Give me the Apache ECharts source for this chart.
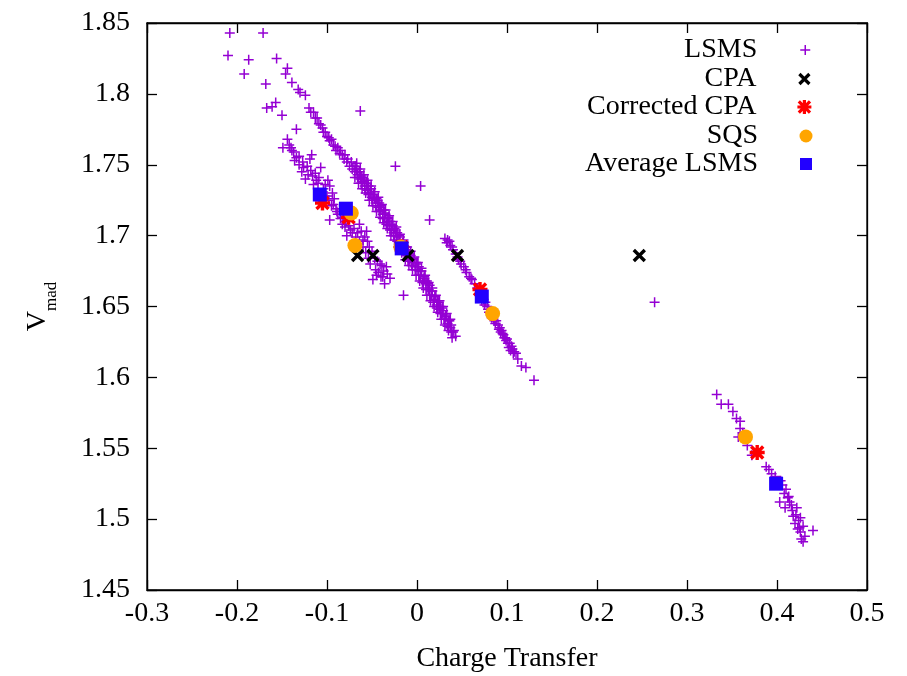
<!DOCTYPE html>
<html>
<head>
<meta charset="utf-8">
<script src="https://cdn.jsdelivr.net/npm/echarts@6/dist/echarts.min.js"></script>
<style>html,body{margin:0;padding:0;background:#fff;overflow:hidden;}#c{width:907px;height:676px;}</style>
</head>
<body>
<div id="c"></div>
<script>
// ---- data ----
const xTicks = [-0.3,-0.2,-0.1,0,0.1,0.2,0.3,0.4,0.5];
const yTicks = [1.45,1.5,1.55,1.6,1.65,1.7,1.75,1.8,1.85];

const lsmsTop = [[-0.208,1.843],[-0.171,1.843],[-0.210,1.827],[-0.187,1.824],[-0.192,1.814],[-0.156,1.825],[-0.144,1.818],[-0.146,1.814],[-0.168,1.807],[-0.139,1.808],[-0.132,1.803],[-0.130,1.801],[-0.124,1.799],[-0.157,1.794],[-0.161,1.791],[-0.167,1.790],[-0.150,1.785],[-0.063,1.788],[-0.134,1.775]];

const lsmsBandA = [[-0.120,1.790],[-0.118,1.787],[-0.115,1.787],[-0.113,1.783],[-0.111,1.783],[-0.109,1.779],[-0.107,1.778],[-0.105,1.776],[-0.104,1.773],[-0.102,1.773],[-0.100,1.770],[-0.098,1.769],[-0.097,1.767],[-0.095,1.768],[-0.093,1.764],[-0.091,1.763],[-0.090,1.760],[-0.088,1.762],[-0.086,1.758],[-0.085,1.760],[-0.083,1.757],[-0.081,1.754],[-0.080,1.757],[-0.078,1.752],[-0.077,1.754],[-0.075,1.749],[-0.073,1.752],[-0.072,1.747],[-0.070,1.749],[-0.069,1.745],[-0.067,1.747],[-0.066,1.743],[-0.064,1.745],[-0.063,1.740],[-0.062,1.742],[-0.060,1.738],[-0.059,1.740],[-0.058,1.735],[-0.056,1.737],[-0.055,1.732],[-0.054,1.735],[-0.052,1.730],[-0.051,1.733],[-0.050,1.727],[-0.048,1.729],[-0.047,1.726],[-0.046,1.723],[-0.045,1.726],[-0.043,1.720],[-0.042,1.723],[-0.041,1.718],[-0.040,1.721],[-0.038,1.715],[-0.037,1.718],[-0.036,1.712],[-0.035,1.715],[-0.033,1.710],[-0.032,1.713],[-0.031,1.707],[-0.030,1.710],[-0.028,1.704],[-0.027,1.707],[-0.026,1.702],[-0.025,1.705],[-0.023,1.700],[-0.022,1.702],[-0.020,1.696],[-0.019,1.699],[-0.018,1.694],[-0.016,1.693],[-0.014,1.689],[-0.013,1.692],[-0.011,1.686],[-0.010,1.688],[-0.008,1.683],[-0.007,1.686],[-0.005,1.681],[-0.004,1.683],[-0.002,1.678],[-0.001,1.681],[0.001,1.676],[0.002,1.678],[0.004,1.672],[0.005,1.675],[0.007,1.668],[0.008,1.671],[0.010,1.666],[0.011,1.668],[0.013,1.662],[0.014,1.665],[0.016,1.658],[0.017,1.661],[0.019,1.655],[0.020,1.657],[0.022,1.651],[0.023,1.654],[0.025,1.648],[0.026,1.650],[0.028,1.645],[0.029,1.647],[0.031,1.641],[0.032,1.643],[0.034,1.638],[0.035,1.640],[0.037,1.635],[0.038,1.637],[0.040,1.632],[0.041,1.633],[0.043,1.629]];

const lsmsBandAUpper = [[-0.067,1.751],[-0.063,1.747],[-0.059,1.743],[-0.055,1.739],[-0.051,1.735],[-0.047,1.731],[-0.043,1.727],[-0.039,1.722],[-0.035,1.718],[-0.031,1.714],[-0.027,1.710],[-0.023,1.706],[-0.019,1.701],[-0.015,1.697],[-0.011,1.692],[-0.007,1.689],[-0.003,1.685],[0.001,1.681],[0.005,1.677],[0.009,1.672],[0.013,1.667],[0.017,1.663],[0.021,1.658],[0.025,1.654],[0.029,1.650],[0.033,1.645],[0.037,1.641]];

const lsmsBandAMidUpper = [[-0.068,1.749],[-0.064,1.745],[-0.060,1.741],[-0.056,1.737],[-0.052,1.733],[-0.048,1.729],[-0.044,1.725],[-0.040,1.720],[-0.036,1.716],[-0.032,1.712],[-0.028,1.708],[-0.024,1.704],[-0.020,1.700],[-0.016,1.695],[-0.012,1.690],[-0.008,1.687],[-0.004,1.684],[0.000,1.680],[0.004,1.675],[0.008,1.670],[0.012,1.666],[0.016,1.661],[0.020,1.657],[0.024,1.653],[0.028,1.649],[0.032,1.644],[0.036,1.640]];

const lsmsBandAMidLower = [[-0.066,1.741],[-0.062,1.737],[-0.058,1.733],[-0.054,1.729],[-0.050,1.725],[-0.046,1.721],[-0.042,1.717],[-0.038,1.712],[-0.034,1.708],[-0.030,1.704],[-0.026,1.700],[-0.022,1.696],[-0.018,1.692],[-0.014,1.687],[-0.010,1.682],[-0.006,1.679],[-0.002,1.676],[0.002,1.672],[0.006,1.667],[0.010,1.662],[0.014,1.658],[0.018,1.653],[0.022,1.649],[0.026,1.645],[0.030,1.641],[0.034,1.636],[0.038,1.632]];

const lsmsBandALower = [[-0.069,1.741],[-0.065,1.737],[-0.061,1.733],[-0.057,1.730],[-0.053,1.725],[-0.049,1.721],[-0.045,1.717],[-0.041,1.713],[-0.037,1.709],[-0.033,1.705],[-0.029,1.700],[-0.025,1.697],[-0.021,1.692],[-0.017,1.688],[-0.013,1.683],[-0.009,1.679],[-0.005,1.676],[-0.001,1.672],[0.003,1.668],[0.007,1.663],[0.011,1.658],[0.015,1.654],[0.019,1.650],[0.023,1.646],[0.027,1.641],[0.031,1.637],[0.035,1.633],[0.039,1.628]];

const lsmsBandB = [[-0.144,1.768],[-0.149,1.762],[-0.142,1.764],[-0.137,1.759],[-0.117,1.757],[-0.139,1.760],[-0.134,1.755],[-0.119,1.754],[-0.136,1.753],[-0.131,1.750],[-0.126,1.748],[-0.107,1.748],[-0.128,1.745],[-0.121,1.743],[-0.124,1.740],[-0.116,1.742],[-0.112,1.739],[-0.115,1.736],[-0.110,1.737],[-0.099,1.739],[-0.104,1.733],[-0.102,1.736],[-0.097,1.735],[-0.108,1.730],[-0.100,1.728],[-0.094,1.730],[-0.098,1.725],[-0.092,1.726],[-0.105,1.726],[-0.095,1.721],[-0.090,1.719],[-0.097,1.711],[-0.088,1.715],[-0.085,1.712],[-0.083,1.708],[-0.080,1.706],[-0.074,1.704],[-0.078,1.700],[-0.070,1.705],[-0.066,1.702],[-0.062,1.703],[-0.056,1.703],[-0.058,1.699],[-0.055,1.696],[-0.060,1.697],[-0.064,1.708],[-0.053,1.692],[-0.050,1.689],[-0.047,1.684],[-0.044,1.682],[-0.041,1.680],[-0.039,1.679],[-0.034,1.678],[-0.037,1.675],[-0.045,1.672],[-0.049,1.669],[-0.040,1.671],[-0.030,1.670],[-0.036,1.666],
  [-0.093,1.722],[-0.089,1.717],[-0.086,1.719],[-0.082,1.713],[-0.079,1.710],[-0.076,1.707],[-0.072,1.702],[-0.068,1.699],[-0.064,1.696],[-0.060,1.692],[-0.057,1.688],[-0.054,1.684],[-0.052,1.680],[-0.046,1.676],[-0.043,1.674],[-0.038,1.671],[-0.033,1.673],[-0.140,1.762],[-0.131,1.756],[-0.127,1.752],[-0.122,1.749],[-0.118,1.746],[-0.113,1.744],[-0.109,1.741]];

const lsmsBandC = [[0.031,1.698],[0.034,1.697],[0.037,1.693],[0.040,1.690],[0.043,1.687],[0.046,1.683],[0.049,1.680],[0.052,1.678],[0.055,1.674],[0.058,1.671],[0.061,1.669],[0.064,1.666],[0.067,1.663],[0.072,1.654],[0.075,1.651],[0.079,1.648],[0.082,1.644],[0.085,1.641],[0.088,1.640],[0.090,1.637],[0.092,1.635],[0.094,1.633],[0.096,1.630],[0.098,1.628],[0.100,1.627],[0.103,1.624],[0.105,1.622],[0.108,1.618],[0.110,1.617],[0.116,1.608],[0.121,1.607],[0.130,1.598],
  [0.033,1.695],[0.036,1.696],[0.039,1.692],[0.045,1.685],[0.048,1.682],[0.054,1.676],[0.060,1.670],[0.076,1.653],[0.080,1.646],[0.087,1.638],[0.091,1.634],[0.095,1.631],[0.099,1.626],[0.102,1.621],[0.106,1.620],
  [0.070,1.658],[0.074,1.655],[0.078,1.650],[0.083,1.642],[0.086,1.640],[0.093,1.632],[0.097,1.628],[0.101,1.624],[0.104,1.619],[0.107,1.617],[0.112,1.613]];

const lsmsBandD = [[0.333,1.588],[0.338,1.581],[0.346,1.581],[0.351,1.576],[0.355,1.571],[0.359,1.569],[0.359,1.564],[0.357,1.558],[0.372,1.545],[0.388,1.537],[0.391,1.535],[0.394,1.532],[0.406,1.524],[0.410,1.521],[0.413,1.516],[0.403,1.512],[0.414,1.512],[0.409,1.508],[0.416,1.510],[0.422,1.508],[0.418,1.502],[0.426,1.501],[0.420,1.497],[0.424,1.499],[0.429,1.495],[0.440,1.492],[0.426,1.491],[0.431,1.488],[0.429,1.484],[0.427,1.486],
  [0.362,1.561],[0.367,1.552],[0.398,1.530],[0.404,1.527],[0.408,1.518],[0.412,1.515],[0.417,1.506],[0.421,1.503],[0.425,1.494],[0.423,1.493]];

const lsmsOutliers = [[-0.024,1.749],[0.004,1.735],[0.014,1.711],[-0.015,1.658],[0.264,1.653]];

const cpa = [[-0.066,1.686],[-0.049,1.686],[-0.010,1.686],[0.045,1.686],[0.247,1.686]];
const correctedCpa = [[-0.105,1.723],[-0.076,1.713],[-0.017,1.692],[0.070,1.662],[0.378,1.547]];
const sqs = [[-0.073,1.716],[-0.069,1.693],[-0.018,1.692],[0.084,1.645],[0.365,1.558]];
const avgLsms = [[-0.108,1.729],[-0.079,1.719],[-0.017,1.691],[0.072,1.657],[0.399,1.525]];

// ---- chart ----
const FONT = '"Liberation Serif", "Times New Roman", serif';
const PLUS = 'path://M0,5L10,5M5,0L5,10';
const CROSS = 'path://M0,0L10,10M10,0L0,10';
const STAR = 'path://M1,1L9,9M9,1L1,9M5,0L5,10M0,5L10,5';
const SQUARE = 'path://M0,0L10,0L10,10L0,10Z';
const purple = '#9400d3';
const lsms = [].concat(lsmsTop, lsmsBandB, lsmsBandA, lsmsBandAUpper, lsmsBandAMidUpper, lsmsBandAMidLower, lsmsBandALower, lsmsBandC, lsmsBandD, lsmsOutliers);

const fmt = v => String(Math.round(v * 100) / 100);

const legendRows = [
  {name:'LSMS', icon:PLUS, top:36, h:10, style:{color:'rgba(0,0,0,0)', borderColor:purple, borderWidth:1.5}},
  {name:'CPA', icon:CROSS, top:65, h:10, style:{color:'rgba(0,0,0,0)', borderColor:'#000', borderWidth:3.2}},
  {name:'Corrected CPA', icon:STAR, top:93, h:14, style:{color:'rgba(0,0,0,0)', borderColor:'#ff0000', borderWidth:3.2}},
  {name:'SQS', icon:'circle', top:122, h:13, style:{color:'#ffa500', borderWidth:0}},
  {name:'Average LSMS', icon:SQUARE, top:150, h:12, style:{color:'#2200ff', borderWidth:0}}
];

const option = {
  backgroundColor: '#fff',
  animation: false,
  grid: {left:147, right:40, top:23, bottom:86, show:true, borderColor:'#000', borderWidth:1.3, backgroundColor:'transparent', containLabel:false, outerBoundsMode:'none'},
  legend: legendRows.map(r => ({
    data:[{name:r.name, icon:r.icon}], orient:'vertical', right:101 - r.h / 2, top:r.top, align:'right',
    itemWidth:r.h, itemHeight:r.h, padding:0, selectedMode:false,
    itemStyle:r.style,
    textStyle:{fontFamily:FONT, fontSize:28, color:'#000', padding:[0, 43 - r.h / 2, 0, 0]}
  })),
  xAxis: [{
    type:'value', min:-0.3, max:0.5, interval:0.1,
    name:'Charge Transfer', nameLocation:'middle', nameGap:55,
    nameTextStyle:{fontFamily:FONT, fontSize:28, color:'#000'},
    axisLine:{show:true, onZero:false, lineStyle:{color:'#000', width:1.3}},
    axisTick:{show:true, inside:true, length:10, lineStyle:{color:'#000', width:1.3}},
    axisLabel:{fontFamily:FONT, fontSize:28, color:'#000', margin:10, formatter:fmt},
    splitLine:{show:false}
  },{
    type:'value', position:'top', min:-0.3, max:0.5, interval:0.1,
    axisLine:{show:true, onZero:false, lineStyle:{color:'#000', width:1.3}},
    axisTick:{show:true, inside:true, length:10, lineStyle:{color:'#000', width:1.3}},
    axisLabel:{show:false}, splitLine:{show:false}
  }],
  yAxis: [{
    type:'value', min:1.45, max:1.85, interval:0.05,
    name:'{a|V}{b|mad}', nameLocation:'middle', nameGap:95, nameRotate:90,
    nameTextStyle:{color:'#000', rich:{
      a:{fontFamily:FONT, fontSize:28, color:'#000', verticalAlign:'top', lineHeight:28},
      b:{fontFamily:FONT, fontSize:17, color:'#000', verticalAlign:'top', lineHeight:17, padding:[19,0,0,0]}
    }},
    axisLine:{show:true, onZero:false, lineStyle:{color:'#000', width:1.3}},
    axisTick:{show:true, inside:true, length:10, lineStyle:{color:'#000', width:1.3}},
    axisLabel:{fontFamily:FONT, fontSize:28, color:'#000', margin:17, formatter:fmt},
    splitLine:{show:false}
  },{
    type:'value', position:'right', min:1.45, max:1.85, interval:0.05,
    axisLine:{show:true, onZero:false, lineStyle:{color:'#000', width:1.3}},
    axisTick:{show:true, inside:true, length:10, lineStyle:{color:'#000', width:1.3}},
    axisLabel:{show:false}, splitLine:{show:false}
  }],
  series: [
    {name:'LSMS', type:'scatter', data:lsms, symbol:PLUS, symbolSize:10,
     itemStyle:{color:'rgba(0,0,0,0)', borderColor:purple, borderWidth:1.5, opacity:1}},
    {name:'CPA', type:'scatter', data:cpa, symbol:CROSS, symbolSize:11,
     itemStyle:{color:'rgba(0,0,0,0)', borderColor:'#000', borderWidth:3.4, opacity:1}},
    {name:'Corrected CPA', type:'scatter', data:correctedCpa, symbol:STAR, symbolSize:15,
     itemStyle:{color:'rgba(0,0,0,0)', borderColor:'#ff0000', borderWidth:3.4, opacity:1}},
    {name:'SQS', type:'scatter', data:sqs, symbol:'circle', symbolSize:15,
     itemStyle:{color:'#ffa500', opacity:1}},
    {name:'Average LSMS', type:'scatter', data:avgLsms, symbol:SQUARE, symbolSize:14,
     itemStyle:{color:'#2200ff', opacity:1}}
  ]
};

const chart = echarts.init(document.getElementById('c'), null, {renderer:'canvas'});
chart.setOption(option);
</script>
</body>
</html>
